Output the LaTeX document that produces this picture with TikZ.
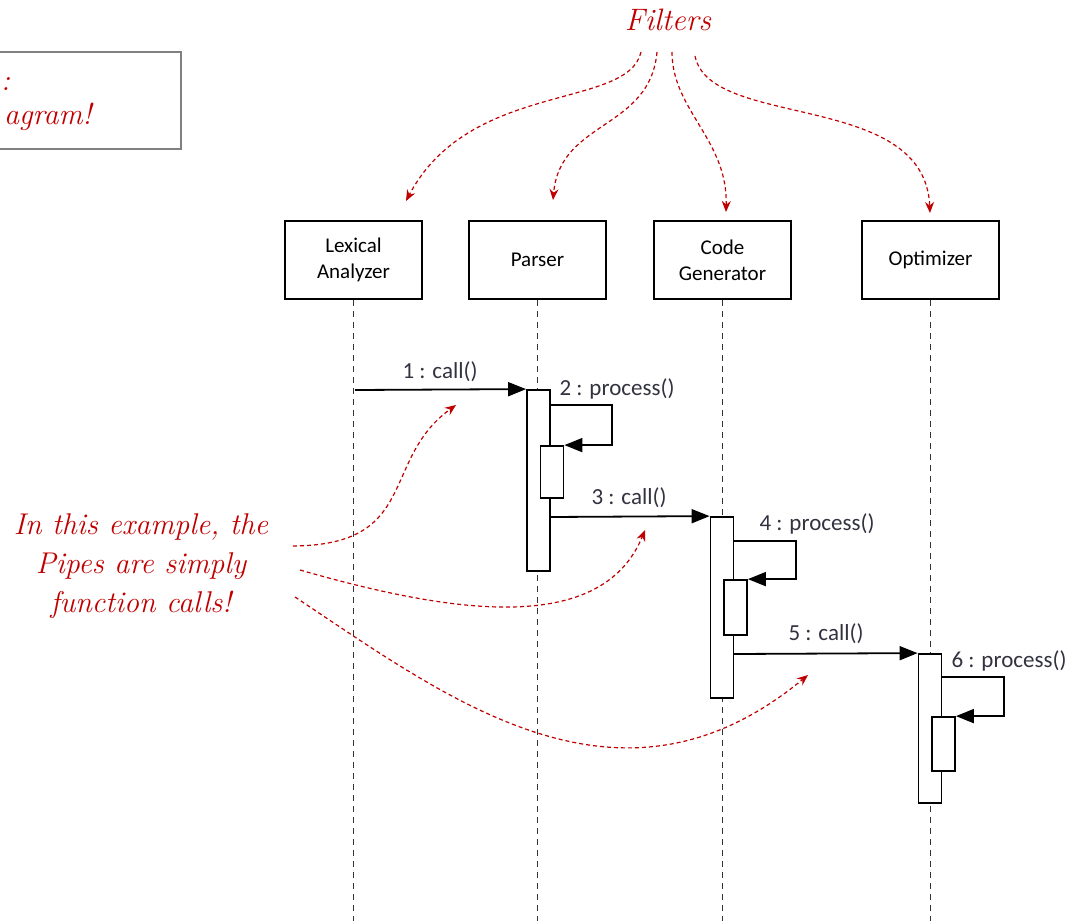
\documentclass[tikz,border=0pt]{standalone}
\usepackage{fontspec}
\newfontfamily\boxfont{Carlito}
\usetikzlibrary{arrows.meta}
\definecolor{notered}{RGB}{192,0,0}
\definecolor{msgtext}{RGB}{50,50,64}
\tikzset{
  actor/.style={draw, line width=1.8pt, minimum width=137pt, minimum height=78pt,
    align=center, font=\boxfont\fontsize{21}{26}\selectfont, inner sep=0pt},
  life/.style={line width=1.8pt, dash pattern=on 6pt off 5pt, draw=black!80},
  bar/.style={draw, fill=white, line width=1.8pt, minimum width=23pt, inner sep=0pt},
  msg/.style={line width=1.8pt, -{Triangle[length=18pt, width=14pt]}},
  msglabel/.style={font=\boxfont\fontsize{23}{25}\selectfont, text=msgtext, inner sep=0pt},
  note/.style={notered, line width=1.2pt, dash pattern=on 4pt off 3pt,
    -{Stealth[length=11pt, width=9pt]}},
  hand/.style={text=notered, font=\itshape\fontsize{30}{39}\selectfont, inner sep=0pt},
}
\begin{document}
\begin{tikzpicture}[x=1pt, y=-1pt]
\useasboundingbox (0,0) rectangle (1072,921);

% caption box at the top left edge
\node[draw=gray, line width=2pt, minimum width=200pt, minimum height=97pt,
      inner sep=0pt] (caption) at (81,100.5) {};
\node[hand, anchor=west] (capA) at (1,84) {:};
\node[hand, anchor=west] (capB) at (4,117) {agram!};

% participants
\node[actor] (lex) at (353.5,260) {Lexical\\Analyzer};
\node[actor] (par) at (537.5,260) {Parser};
\node[actor] (gen) at (722.5,260) {Code\\Generator};
\node[actor] (opt) at (930.5,260) {Optimizer};

% lifelines
\coordinate (bottom) at (0,921);
\draw[life] (lex.south) -- (lex.south |- bottom);
\draw[life] (par.south) -- (par.south |- bottom);
\draw[life] (gen.south) -- (gen.south |- bottom);
\draw[life] (opt.south) -- (opt.south |- bottom);

% activation bars
\node[bar, minimum height=181pt] (pbar) at (538.5,480.5) {};
\node[bar, minimum height=52pt]  (pin)  at (552,472) {};
\node[bar, minimum height=181pt] (gbar) at (722,607.5) {};
\node[bar, minimum height=55pt]  (gin)  at (735.5,607.5) {};
\node[bar, minimum height=149pt] (obar) at (930,728.5) {};
\node[bar, minimum height=54pt]  (oin)  at (943.5,744) {};

% messages
\coordinate (m1) at (355,390);
\draw[msg] (m1) -- (pbar.north west);
\node[msglabel] (l1) at (440,372) {1 : call()};

\coordinate (s2) at (550,405);
\draw[msg] (s2) -- ++(62,0) |- (pin.north east);
\node[msglabel] (l2) at (617,389) {2 : process()};

\coordinate (m3) at (550,517);
\draw[msg] (m3) -- (gbar.north west);
\node[msglabel] (l3) at (629,498) {3 : call()};

\coordinate (s4) at (734,541);
\draw[msg] (s4) -- ++(62,0) |- (gin.north east);
\node[msglabel] (l4) at (817,524) {4 : process()};

\coordinate (m5) at (734,654);
\draw[msg] (m5) -- (obar.north west);
\node[msglabel] (l5) at (826,634) {5 : call()};

\coordinate (s6) at (942,677);
\draw[msg] (s6) -- ++(62,0) |- (oin.north east);
\node[msglabel] (l6) at (1009,661) {6 : process()};

% "Filters" annotation
\node[hand, font=\itshape\fontsize{31}{36}\selectfont] (filters) at (668,20) {Filters};
\coordinate (f1) at (641,52);
\coordinate (f2) at (657,52);
\coordinate (f3) at (672,52);
\coordinate (f4) at (695,56);
\coordinate (t1) at (406,201);
\coordinate (t2) at (553,200);
\coordinate (t3) at (726,212);
\coordinate (t4) at (930,213);
\draw[note] (f1) .. controls (628,110) and (470,80) .. (t1);
\draw[note] (f2) .. controls (650,130) and (560,120) .. (t2);
\draw[note] (f3) .. controls (672,110) and (728,140) .. (t3);
\draw[note] (f4) .. controls (710,130) and (925,90) .. (t4);

% "Pipes" annotation
\node[hand, align=center] (pipes) at (141,566)
  {In this example, the\\Pipes are simply\\function calls!};
\coordinate (p1) at (293,546);
\coordinate (p2) at (300,570);
\coordinate (p3) at (295,597);
\coordinate (q1) at (456,405);
\coordinate (q2) at (645,530);
\coordinate (q3) at (808,675);
\draw[note] (p1) .. controls (420,545) and (380,460) .. (q1);
\draw[note] (p2) .. controls (440,610) and (600,640) .. (q2);
\draw[note] (p3) .. controls (450,700) and (620,830) .. (q3);
\end{tikzpicture}
\end{document}
